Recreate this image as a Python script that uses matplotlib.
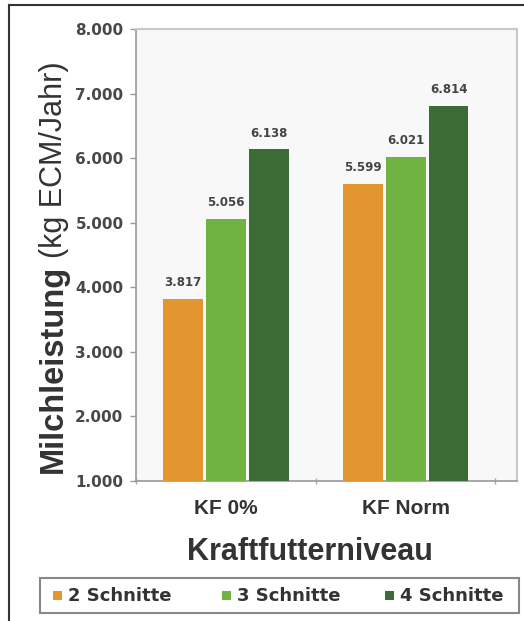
import matplotlib
matplotlib.use("Agg")
import matplotlib.pyplot as plt
import numpy as np
from matplotlib.patches import Rectangle
from matplotlib.lines import Line2D

categories = ["KF 0%", "KF Norm"]
series_names = ["2 Schnitte", "3 Schnitte", "4 Schnitte"]
values_2 = [3817, 5599]
values_3 = [5056, 6021]
values_4 = [6138, 6814]
series_values = [values_2, values_3, values_4]
value_labels = [["3.817", "5.599"], ["5.056", "6.021"], ["6.138", "6.814"]]
yticks = [1000, 2000, 3000, 4000, 5000, 6000, 7000, 8000]
ytick_labels = ["1.000", "2.000", "3.000", "4.000", "5.000", "6.000", "7.000", "8.000"]
colors = ["#E3962F", "#6FB343", "#3B6C36"]

W, H = 524, 621
fig = plt.figure(figsize=(W / 100, H / 100), dpi=100)
fig.patch.set_facecolor("white")

def fx(px):
    return px / W

def fy(py):
    return 1 - py / H

ax = fig.add_axes([fx(136), fy(481), fx(517) - fx(136), fy(29) - fy(481)])
ax.set_facecolor("#f8f8f8")

x = np.arange(len(categories))
width = 0.222
step = 0.239
for i, (vals, col) in enumerate(zip(series_values, colors)):
    pos = x + (i - 1) * step
    bars = ax.bar(pos, [v - 1000 for v in vals], bottom=1000, width=width,
                  color=col, edgecolor="none", zorder=3)
    for b, lab in zip(bars, value_labels[i]):
        ax.annotate(lab, (b.get_x() + b.get_width() / 2, b.get_y() + b.get_height()),
                    xytext=(0, 7), textcoords="offset points", ha="center", va="bottom",
                    fontsize=8.5, fontweight="bold", color="#444444",
                    family="DejaVu Sans")

ax.set_xlim(-0.497, 1.62)
ax.set_ylim(1000, 8000)
ax.set_yticks(yticks)
ax.set_yticklabels(ytick_labels, fontsize=11, fontweight="bold", color="#484848",
                   family="DejaVu Sans")
ax.tick_params(axis="y", length=4, width=1, color="#999999", pad=5)
ax.set_xticks(x)
ax.set_xticklabels(categories, fontsize=15, fontweight="bold", color="#333333",
                   family="Liberation Sans")
ax.tick_params(axis="x", which="major", length=0, pad=13)
ax.set_xticks([-0.5, 0.5, 1.5], minor=True)
ax.tick_params(axis="x", which="minor", length=4, width=1, color="#aaaaaa", direction="inout")

for s in ["left", "bottom"]:
    ax.spines[s].set_color("#999999")
    ax.spines[s].set_linewidth(1.2)
for s in ["top", "right"]:
    ax.spines[s].set_color("#c8c8c8")
    ax.spines[s].set_linewidth(1.5)

# x label
fig.text(fx(310), fy(552), "Kraftfutterniveau", ha="center", va="center",
         fontsize=22, fontweight="bold", color="#333333", family="Liberation Sans")

# y label in two weights
t1 = fig.text(fx(62), fy(473), "Milchleistung", rotation=90, rotation_mode="anchor",
              ha="left", va="baseline", fontsize=23.5, fontweight="bold", color="#333333",
              family="Liberation Sans")
fig.canvas.draw()
bb = t1.get_window_extent(renderer=fig.canvas.get_renderer())
top_y = bb.y1 / fig.dpi / fig.get_figheight()
fig.text(fx(62), top_y + 7 / H, "(kg ECM/Jahr)", rotation=90, rotation_mode="anchor",
         ha="left", va="baseline", fontsize=22, fontweight="normal", color="#333333",
         family="Liberation Sans")

# legend (drawn manually to match the layout)
fig.add_artist(Rectangle((fx(40), fy(613)), fx(519) - fx(40), fy(578) - fy(613),
                         transform=fig.transFigure, facecolor="white",
                         edgecolor="#888888", linewidth=1.5))
leg_sq_x = [53, 222, 385]
for name, col, sx in zip(series_names, colors, leg_sq_x):
    fig.add_artist(Rectangle((fx(sx), fy(600)), 9 / W, 9 / H, transform=fig.transFigure,
                             facecolor=col, edgecolor="none"))
    fig.text(fx(sx + 15), fy(596), name, ha="left", va="center", fontsize=13,
             fontweight="bold", color="#333333", family="DejaVu Sans")

# outer border lines
fig.add_artist(Line2D([fx(9), fx(9)], [fy(5), 0], color="#333333", linewidth=1.5,
                      transform=fig.transFigure))
fig.add_artist(Line2D([fx(9), 1], [fy(5), fy(5)], color="#333333", linewidth=1.5,
                      transform=fig.transFigure))

fig.savefig("out.png", dpi=100)
